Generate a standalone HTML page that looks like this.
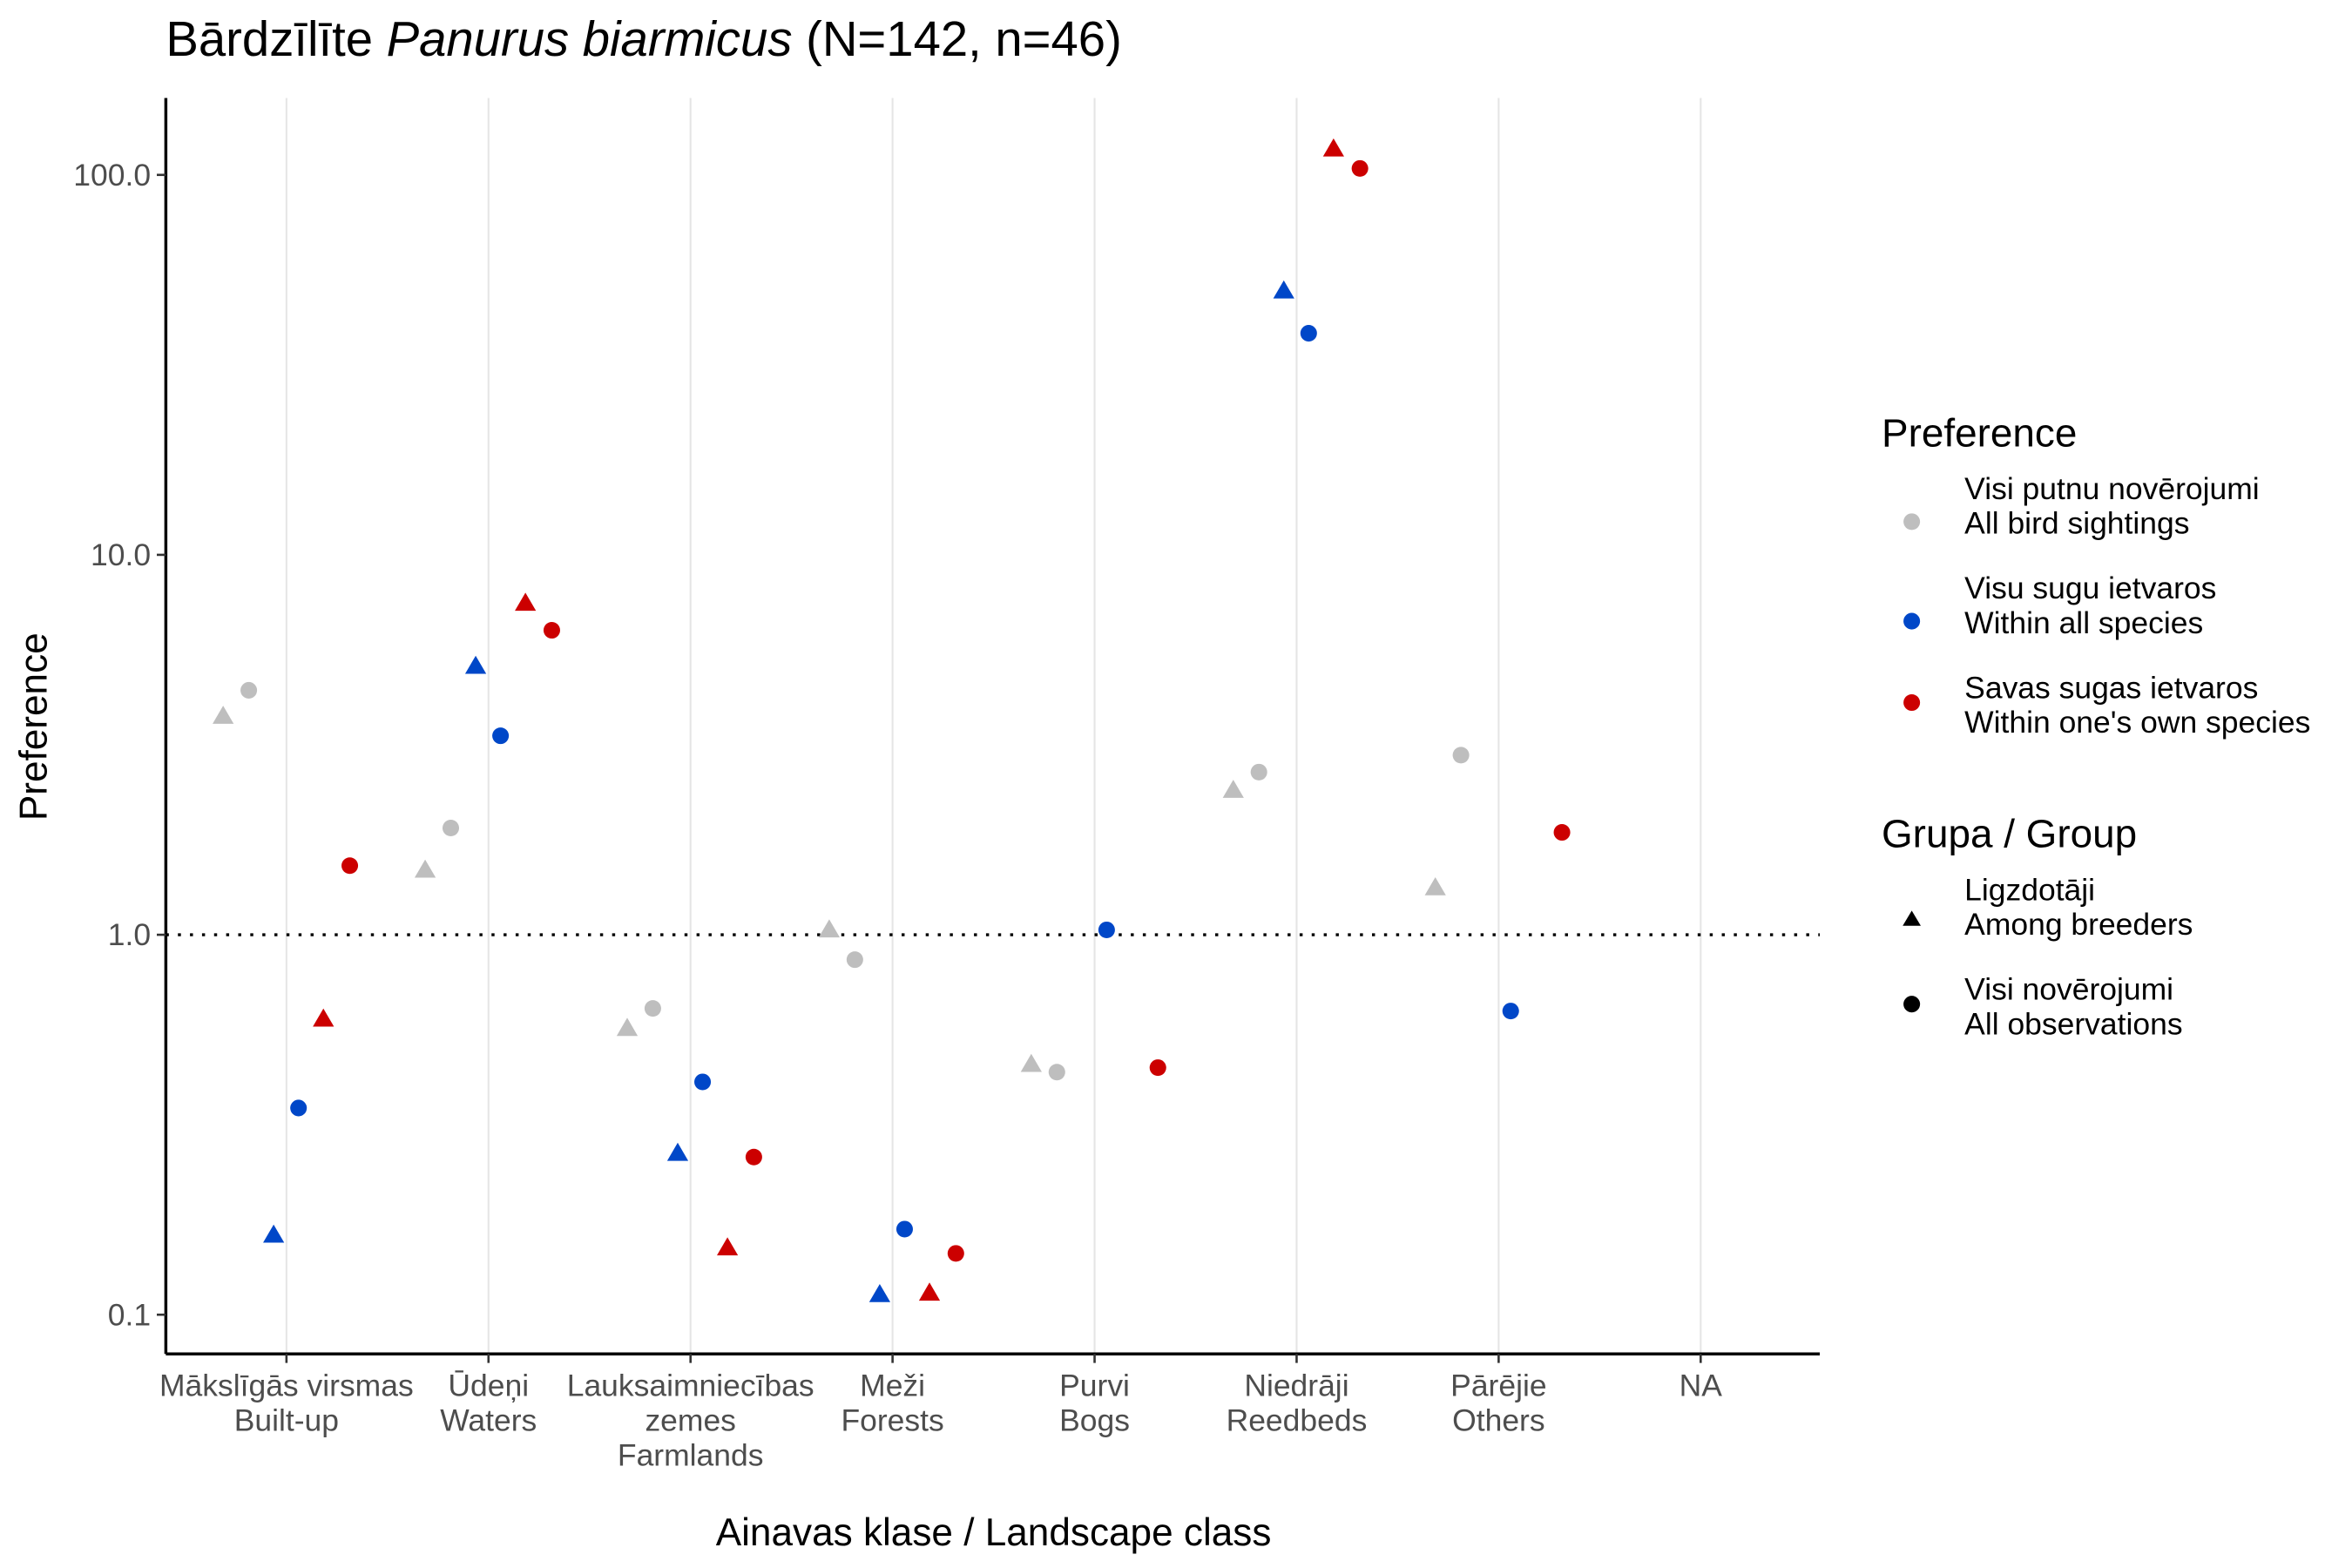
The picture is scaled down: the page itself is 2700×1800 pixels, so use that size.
<!DOCTYPE html>
<html><head><meta charset="utf-8"><style>
html,body{margin:0;padding:0;background:#fff;}
svg{display:block;font-family:"Liberation Sans",sans-serif;}
</style></head><body>
<svg id="chart" width="2700" height="1800" viewBox="0 0 1560 1040" xmlns="http://www.w3.org/2000/svg">
<rect width="1560" height="1040" fill="#fff"/>
<text x="110" y="37" font-size="32.5" fill="#000">Bārdzīlīte <tspan font-style="italic">Panurus biarmicus</tspan> (N=142, n=46)</text>
<g id="grid"></g>
<line x1="110" x2="1207" y1="620" y2="620" stroke="#000" stroke-width="2" stroke-dasharray="2,6"/>
<g id="points"></g>
<line x1="110" x2="110" y1="65" y2="898" stroke="#000" stroke-width="2"/>
<line x1="110" x2="1207" y1="898" y2="898" stroke="#000" stroke-width="2"/>
<g id="yticks"></g>
<g id="xticks"></g>
<text transform="translate(31,482) rotate(-90)" text-anchor="middle" font-size="25.5">Preference</text>
<text x="659" y="1025" text-anchor="middle" font-size="25.5">Ainavas klase / Landscape class</text>
<g font-size="20.5">
<text x="1248" y="296" font-size="26.5">Preference</text>
<circle cx="1268" cy="346" r="5.5" fill="#bebebe"/>
<text x="1303" y="331">Visi putnu novērojumi</text><text x="1303" y="354">All bird sightings</text>
<circle cx="1268" cy="412" r="5.5" fill="#0047c8"/>
<text x="1303" y="397">Visu sugu ietvaros</text><text x="1303" y="420">Within all species</text>
<circle cx="1268" cy="466" r="5.5" fill="#cc0000"/>
<text x="1303" y="463">Savas sugas ietvaros</text><text x="1303" y="486">Within one's own species</text>
<text x="1248" y="562" font-size="26.5">Grupa / Group</text>
<polygon points="1268,604 1274,614 1262,614" fill="#000"/>
<text x="1303" y="597">Ligzdotāji</text><text x="1303" y="620">Among breeders</text>
<circle cx="1268" cy="666" r="5.5" fill="#000"/>
<text x="1303" y="663">Visi novērojumi</text><text x="1303" y="686">All observations</text>
</g>
</svg>
<script>
const categories = [["Mākslīgās virsmas","Built-up"],["Ūdeņi","Waters"],["Lauksaimniecības","zemes","Farmlands"],["Meži","Forests"],["Purvi","Bogs"],["Niedrāji","Reedbeds"],["Pārējie","Others"],["NA"]];
const grayBreeders = [3.76,1.48,0.567,1.03,0.456,2.40,1.33,null];
const grayAll = [4.4,1.91,0.64,0.86,0.435,2.68,2.97,null];
const blueBreeders = [0.162,5.09,0.266,0.113,null,49.5,null,null];
const blueAll = [0.35,3.34,0.41,0.168,1.03,38.3,0.63,null];
const redBreeders = [0.6,7.46,0.15,0.114,null,117,null,null];
const redAll = [1.52,6.33,0.26,0.145,0.447,104,1.86,null];
const yTickValues = [0.1,1,10,100];
const yTickLabels = ["0.1","1.0","10.0","100.0"];

const NS="http://www.w3.org/2000/svg";
function yScale(v){return 620-252*Math.log10(v);}
function xScale(i){return 190+i*134;}
function mk(tag,attrs,parent){const e=document.createElementNS(NS,tag);for(const k in attrs)e.setAttribute(k,attrs[k]);parent.appendChild(e);return e;}
const grid=document.getElementById('grid'),pts=document.getElementById('points'),yt=document.getElementById('yticks'),xt=document.getElementById('xticks');
categories.forEach((c,i)=>{
  const g=mk('line',{x1:xScale(i),x2:xScale(i),y1:65,y2:898,stroke:'#e5e5e5','stroke-width':1.2},grid);
  
  
  const t=mk('line',{x1:xScale(i),x2:xScale(i),y1:898,y2:904,stroke:'#333','stroke-width':1.5},xt);
  
  
  c.forEach((s,j)=>{
    const tx=mk('text',{x:xScale(i),y:926+j*23,'text-anchor':'middle','font-size':20.5,fill:'#4d4d4d'},xt);
    tx.textContent=s;
    
    
  });
});
yTickValues.forEach((v,i)=>{
  const y=yScale(v);
  const t=mk('line',{x1:104,x2:110,y1:y,y2:y,stroke:'#333','stroke-width':1.5},yt);
  
  
  const tx=mk('text',{x:100,y:y+7,'text-anchor':'end','font-size':20.5,fill:'#4d4d4d'},yt);
  tx.textContent=yTickLabels[i];
  
  
});
const series=[[grayBreeders,'#bebebe','tri',-42],[grayAll,'#bebebe','circ',-25],[blueBreeders,'#0047c8','tri',-8.5],[blueAll,'#0047c8','circ',8],[redBreeders,'#cc0000','tri',24.5],[redAll,'#cc0000','circ',42]];
series.forEach(([arr,col,shape,off])=>{
  arr.forEach((v,i)=>{
    if(v==null)return;
    const x=xScale(i)+off,y=yScale(v);
    let e;
    if(shape==='circ') e=mk('circle',{cx:x,cy:y,r:5.5,fill:col},pts);
    else e=mk('polygon',{points:`${x},${y-7} ${x+7},${y+5} ${x-7},${y+5}`,fill:col},pts);
    
    
  });
});
</script>
</body></html>
